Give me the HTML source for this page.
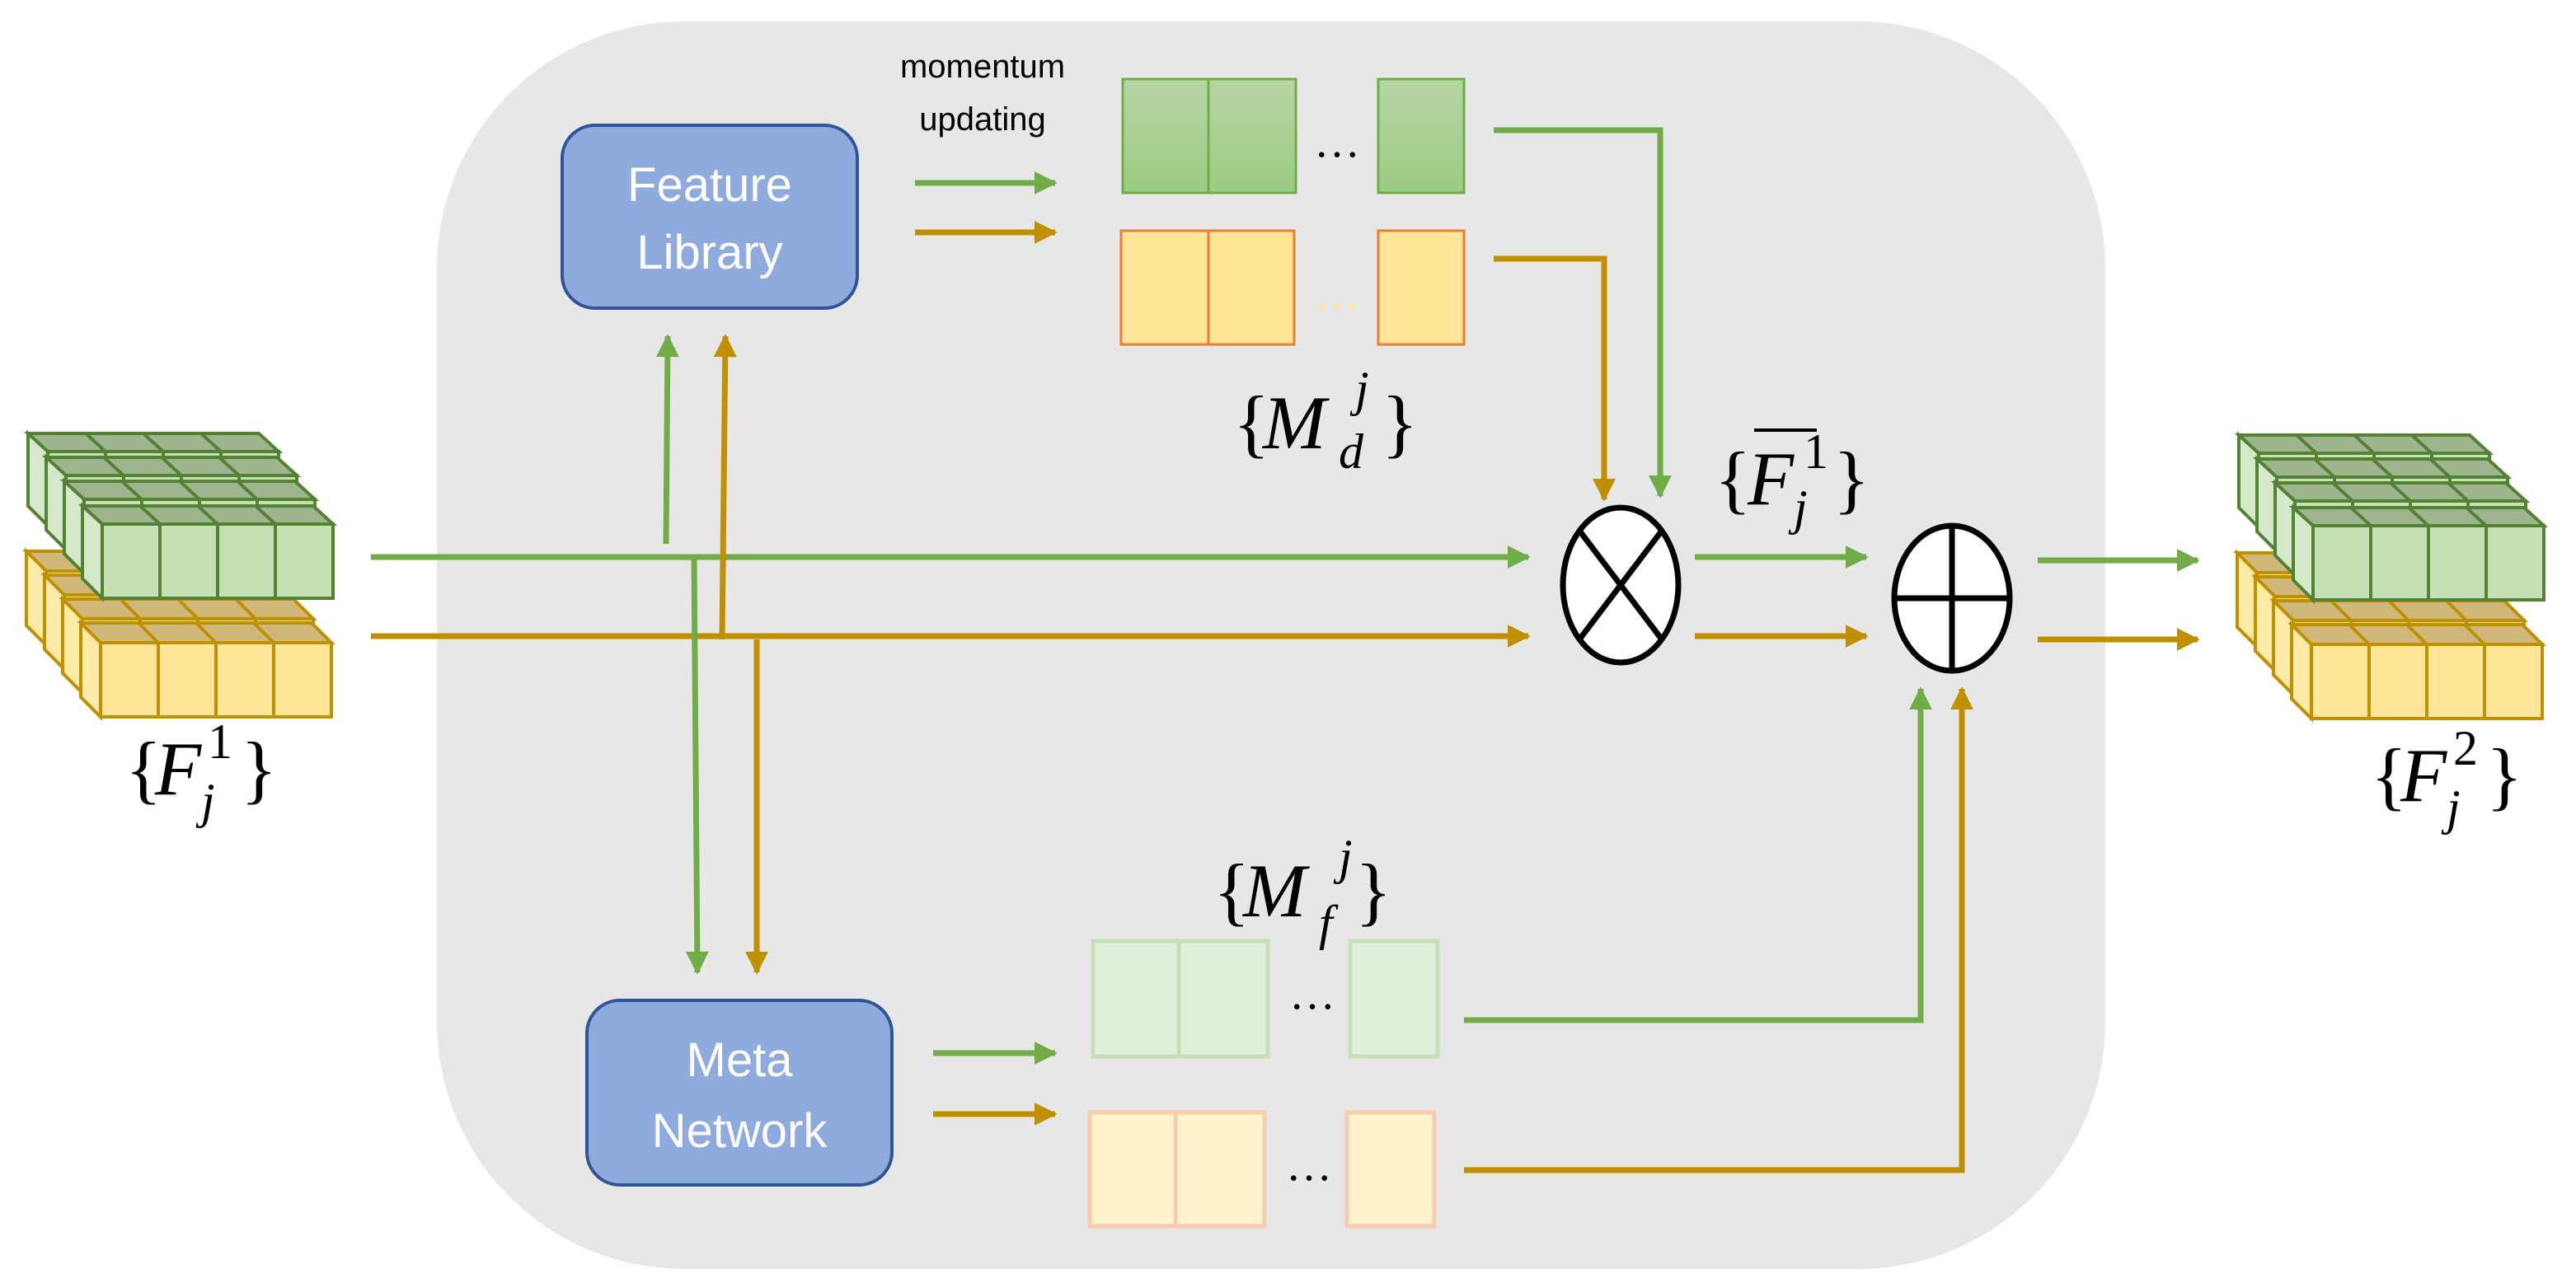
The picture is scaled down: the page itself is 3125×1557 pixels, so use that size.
<!DOCTYPE html>
<html><head><meta charset="utf-8"><style>
html,body{margin:0;padding:0;background:#fff;}
svg{display:block;}
.m{font-family:"Liberation Serif",serif;font-style:italic;fill:#000;}
.b{font-family:"Liberation Serif",serif;fill:#000;}
</style></head><body>
<svg width="3125" height="1557" viewBox="0 0 1562.5 778.5" xmlns="http://www.w3.org/2000/svg">
<defs>
<linearGradient id="gg" x1="0" y1="0" x2="0" y2="1"><stop offset="0" stop-color="#b6d5a5"/><stop offset="1" stop-color="#9ccb84"/></linearGradient>
<marker id="ag" viewBox="0 0 10 10" refX="9" refY="5" markerWidth="4" markerHeight="4" orient="auto" markerUnits="strokeWidth"><path d="M0,0L10,5L0,10z" fill="#70ad47"/></marker>
<marker id="ao" viewBox="0 0 10 10" refX="9" refY="5" markerWidth="4" markerHeight="4" orient="auto" markerUnits="strokeWidth"><path d="M0,0L10,5L0,10z" fill="#bf9000"/></marker>
<g id="gl">
 <path d="M50,307L190,307L202,318L62,318Z" fill="#9fb590" stroke="#548235" stroke-width="2"/>
 <path d="M50,307L62,318L62,363L50,351Z" fill="#d5e8c9" stroke="#548235" stroke-width="2"/>
 <rect x="62" y="318" width="140" height="45" fill="#c5e0b4" stroke="#548235" stroke-width="2"/>
 <path d="M97,318V363M132,318V363M167,318V363M85,307L97,318M120,307L132,318M155,307L167,318" stroke="#548235" stroke-width="2"/>
</g>
<g id="ol">
 <path d="M49,378L189,378L201,390L61,390Z" fill="#d0b87a" stroke="#bf9000" stroke-width="2"/>
 <path d="M49,378L61,390L61,435L49,423Z" fill="#ffeaa8" stroke="#bf9000" stroke-width="2"/>
 <rect x="61" y="390" width="140" height="45" fill="#ffe699" stroke="#bf9000" stroke-width="2"/>
 <path d="M96,390V435M131,390V435M166,390V435M84,378L96,390M119,378L131,390M154,378L166,390" stroke="#bf9000" stroke-width="2"/>
</g>
<g id="stack">
 <use href="#ol" transform="translate(-33,-43.5)"/>
 <use href="#ol" transform="translate(-22,-29)"/>
 <use href="#ol" transform="translate(-11,-14.5)"/>
 <use href="#ol"/>
 <use href="#gl" transform="translate(-33,-44)"/>
 <use href="#gl" transform="translate(-22,-29.5)"/>
 <use href="#gl" transform="translate(-11,-15)"/>
 <use href="#gl"/>
</g>
</defs>
<rect x="265" y="13" width="1012" height="757" rx="150" fill="#e7e7e7"/>

<use href="#stack"/>
<use href="#stack" transform="translate(1341,1)"/>

<rect x="341" y="76" width="179" height="111" rx="20" fill="#8faadc" stroke="#2f5597" stroke-width="2"/>
<text x="430.5" y="122" text-anchor="middle" font-family="Liberation Sans,sans-serif" font-size="29" fill="#fff">Feature</text>
<text x="430.5" y="163" text-anchor="middle" font-family="Liberation Sans,sans-serif" font-size="29" fill="#fff">Library</text>
<rect x="356" y="607" width="185" height="112" rx="20" fill="#8faadc" stroke="#2f5597" stroke-width="2"/>
<text x="448.5" y="653" text-anchor="middle" font-family="Liberation Sans,sans-serif" font-size="29" fill="#fff">Meta</text>
<text x="448.5" y="696" text-anchor="middle" font-family="Liberation Sans,sans-serif" font-size="29" fill="#fff">Network</text>

<text x="596" y="47" text-anchor="middle" font-family="Liberation Sans,sans-serif" font-size="20" fill="#000">momentum</text>
<text x="596" y="79" text-anchor="middle" font-family="Liberation Sans,sans-serif" font-size="20" fill="#000">updating</text>

<g stroke="#70ad47" stroke-width="1.5" fill="url(#gg)">
<rect x="681" y="48" width="52" height="69"/><rect x="733" y="48" width="53" height="69"/><rect x="836" y="48" width="52" height="69"/></g>
<text x="811" y="95" text-anchor="middle" class="b" font-size="28">…</text>
<g stroke="#ed7d31" stroke-width="1.5" fill="#ffe699">
<rect x="680" y="140" width="53" height="69"/><rect x="733" y="140" width="52" height="69"/><rect x="836" y="140" width="52" height="69"/></g>
<text x="811" y="187" text-anchor="middle" class="b" font-size="28" style="fill:#ffe699">…</text>

<g stroke="#c5e0b4" stroke-width="2.5" fill="#e2efda">
<rect x="663" y="571" width="52" height="70"/><rect x="715" y="571" width="54" height="70"/><rect x="819" y="571" width="53" height="70"/></g>
<text x="796" y="612" text-anchor="middle" class="b" font-size="28">…</text>
<g stroke="#f8cbad" stroke-width="2.5" fill="#fff2cc">
<rect x="661" y="675" width="52" height="69"/><rect x="713" y="675" width="54" height="69"/><rect x="817" y="675" width="53" height="69"/></g>
<text x="794" y="716" text-anchor="middle" class="b" font-size="28">…</text>

<g fill="none" stroke-width="3.5">
<path d="M225,338H927" stroke="#70ad47" marker-end="url(#ag)"/>
<path d="M225,386H927" stroke="#bf9000" marker-end="url(#ao)"/>
<path d="M404,330L405,204" stroke="#70ad47" marker-end="url(#ag)"/>
<path d="M438,388L440,204" stroke="#bf9000" marker-end="url(#ao)"/>
<path d="M421,338L423,590" stroke="#70ad47" marker-end="url(#ag)"/>
<path d="M459,388V590" stroke="#bf9000" marker-end="url(#ao)"/>
<path d="M555,111H640" stroke="#70ad47" marker-end="url(#ag)"/>
<path d="M555,141H640" stroke="#bf9000" marker-end="url(#ao)"/>
<path d="M906,79H1007V301" stroke="#70ad47" marker-end="url(#ag)"/>
<path d="M906,157H973V303" stroke="#bf9000" marker-end="url(#ao)"/>
<path d="M566,639H640" stroke="#70ad47" marker-end="url(#ag)"/>
<path d="M566,676H640" stroke="#bf9000" marker-end="url(#ao)"/>
<path d="M1028,338H1132" stroke="#70ad47" marker-end="url(#ag)"/>
<path d="M1028,386H1132" stroke="#bf9000" marker-end="url(#ao)"/>
<path d="M1236,340H1333" stroke="#70ad47" marker-end="url(#ag)"/>
<path d="M1236,388H1333" stroke="#bf9000" marker-end="url(#ao)"/>
<path d="M888,619H1165V418" stroke="#70ad47" marker-end="url(#ag)"/>
<path d="M888,710H1190V418" stroke="#bf9000" marker-end="url(#ao)"/>
</g>

<ellipse cx="983" cy="355" rx="35" ry="47" fill="#fff" stroke="#000" stroke-width="3.5"/>
<path d="M958,322L1008,388M1008,322L958,388" stroke="#000" stroke-width="3.5"/>
<ellipse cx="1184" cy="363" rx="35" ry="44" fill="#fff" stroke="#000" stroke-width="3.5"/>
<path d="M1184,319V407M1149,363H1220" stroke="#000" stroke-width="3.5"/>

<!-- F_j^1 left -->
<text class="b" font-size="46" x="76" y="482">{</text>
<text class="m" font-size="46" x="94" y="482">F</text>
<text class="b" font-size="30" x="126" y="460">1</text>
<text class="m" font-size="30" x="122" y="496">j</text>
<text class="b" font-size="46" x="146" y="482">}</text>
<!-- M_d^j -->
<text class="b" font-size="46" x="748" y="272">{</text>
<text class="m" font-size="46" x="766" y="272">M</text>
<text class="m" font-size="30" x="822" y="246">j</text>
<text class="m" font-size="30" x="812" y="284">d</text>
<text class="b" font-size="46" x="838" y="272">}</text>
<!-- overline F_j^1 -->
<text class="b" font-size="46" x="1040" y="306">{</text>
<text class="m" font-size="46" x="1060" y="306">F</text>
<text class="b" font-size="30" x="1094" y="284">1</text>
<text class="m" font-size="30" x="1088" y="318">j</text>
<text class="b" font-size="46" x="1112" y="306">}</text>
<path d="M1064,261H1102" stroke="#000" stroke-width="2"/>
<!-- M_f^j -->
<text class="b" font-size="46" x="736" y="556">{</text>
<text class="m" font-size="46" x="754" y="556">M</text>
<text class="m" font-size="30" x="812" y="530">j</text>
<text class="m" font-size="30" x="800" y="570">f</text>
<text class="b" font-size="46" x="822" y="556">}</text>
<!-- F_j^2 -->
<text class="b" font-size="46" x="1438" y="486">{</text>
<text class="m" font-size="46" x="1456" y="486">F</text>
<text class="b" font-size="30" x="1488" y="464">2</text>
<text class="m" font-size="30" x="1484" y="500">j</text>
<text class="b" font-size="46" x="1508" y="486">}</text>
</svg>
</body></html>
